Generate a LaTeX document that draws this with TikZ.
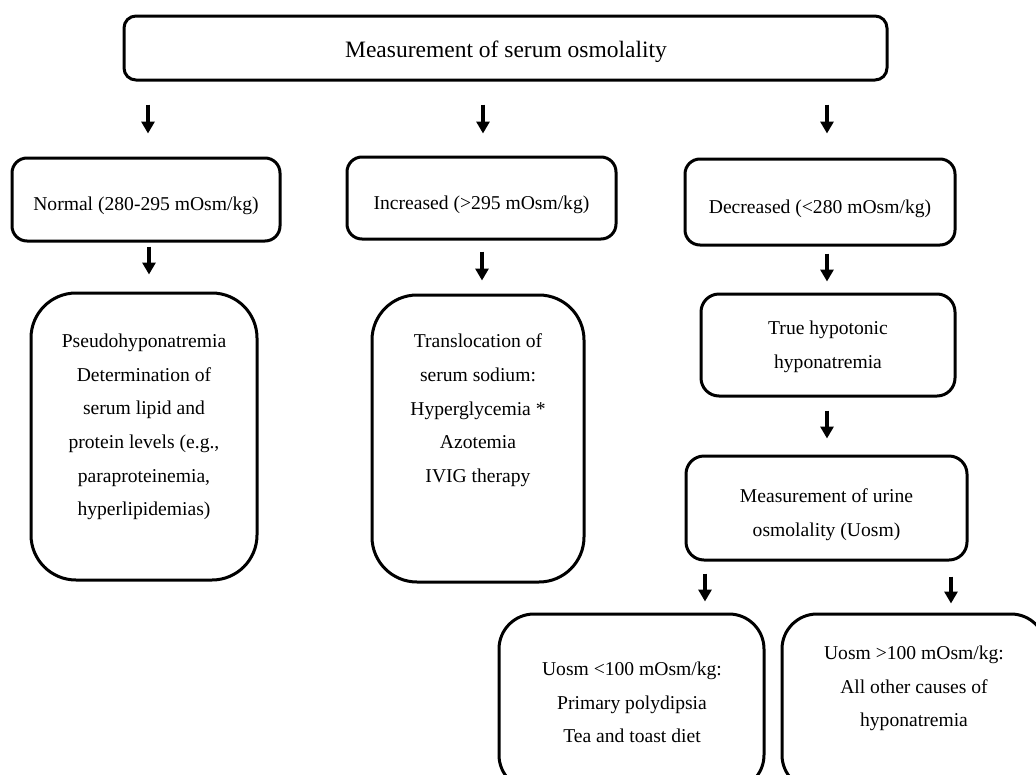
\documentclass[tikz,border=0pt]{standalone}
\usepackage{fontspec}
\setmainfont{Liberation Serif}
\usetikzlibrary{arrows.meta}
\begin{document}
\begin{tikzpicture}[x=1pt,y=-1pt,
  rbox/.style={draw, line width=3pt, rounded corners=#1, inner sep=0pt},
  rbox/.default=15pt,
  txt/.style={align=center, inner sep=0pt, font=\fontsize{19.6}{33.7}\selectfont},
  arr/.style={line width=3.6pt, -{Triangle[width=13pt,length=12pt]}}]
\useasboundingbox (0,0) rectangle (1036,774);
\clip (0,0) rectangle (1036,774);
% boxes
\node[rbox=12pt, minimum width=763pt, minimum height=64pt] (top) at (505.5,48) {};
\node[txt, font=\fontsize{23.5}{28}\selectfont] (topt) at (506,52) {Measurement of serum osmolality};
\node[rbox, minimum width=268pt, minimum height=83pt] (norm) at (146,199.5) {};
\node[txt] (normt) at (146,206) {Normal (280-295 mOsm/kg)};
\node[rbox, minimum width=269pt, minimum height=82pt] (inc) at (481.5,198) {};
\node[txt] (inct) at (481.5,205) {Increased (>295 mOsm/kg)};
\node[rbox, minimum width=270pt, minimum height=86pt] (dec) at (820,202) {};
\node[txt] (dect) at (820,209) {Decreased (<280 mOsm/kg)};
\node[rbox=45pt, minimum width=226pt, minimum height=287pt] (pseudo) at (144,436.5) {};
\node[txt] (pseudot) at (144,427) {Pseudohyponatremia\\Determination of\\serum lipid and\\protein levels (e.g.,\\paraproteinemia,\\hyperlipidemias)};
\node[rbox=45pt, minimum width=212pt, minimum height=287pt] (trans) at (478,438.5) {};
\node[txt] (transt) at (478,410.5) {Translocation of\\serum sodium:\\Hyperglycemia *\\Azotemia\\IVIG therapy};
\node[rbox=18pt, minimum width=254pt, minimum height=102pt] (true) at (828,345) {};
\node[txt] (truet) at (828,346.5) {True hypotonic\\hyponatremia};
\node[rbox=18pt, minimum width=281pt, minimum height=104pt] (urine) at (826.5,508) {};
\node[txt] (urinet) at (826.5,514.5) {Measurement of urine\\osmolality (Uosm)};
\node[rbox=35pt, minimum width=265pt, minimum height=176pt] (low) at (631.5,702) {};
\node[txt] (lowt) at (632,702.5) {Uosm <100 mOsm/kg:\\Primary polydipsia\\Tea and toast diet};
\node[rbox=35pt, minimum width=264pt, minimum height=176pt] (high) at (914,702) {};
\node[txt] (hight) at (914,688.5) {Uosm >100 mOsm/kg:\\All other causes of\\hyponatremia};
% arrow columns
\coordinate (x1) at (148,0);
\coordinate (x2) at (483,0);
\coordinate (x3) at (827,0);
\coordinate (x4) at (149,0);
\coordinate (x5) at (482,0);
\coordinate (x6) at (827,0);
\coordinate (x7) at (705,0);
\coordinate (x8) at (951,0);
% arrows
\draw[arr, shorten <=23pt, shorten >=23pt] (top.south -| x1) -- (norm.north -| x1);
\draw[arr, shorten <=23pt, shorten >=22pt] (top.south -| x2) -- (inc.north -| x2);
\draw[arr, shorten <=23pt, shorten >=24pt] (top.south -| x3) -- (dec.north -| x3);
\draw[arr, shorten <=4pt, shorten >=17pt] (norm.south -| x4) -- (pseudo.north -| x4);
\draw[arr, shorten <=11pt, shorten >=13pt] (inc.south -| x5) -- (trans.north -| x5);
\draw[arr, shorten <=7pt, shorten >=11pt] (dec.south -| x6) -- (true.north -| x6);
\draw[arr, shorten <=13pt, shorten >=16pt] (true.south -| x6) -- (urine.north -| x6);
\draw[arr, shorten <=12pt, shorten >=11pt] (urine.south -| x7) -- (low.north -| x7);
\draw[arr, shorten <=15pt, shorten >=9pt] (urine.south -| x8) -- (high.north -| x8);
\end{tikzpicture}
\end{document}
